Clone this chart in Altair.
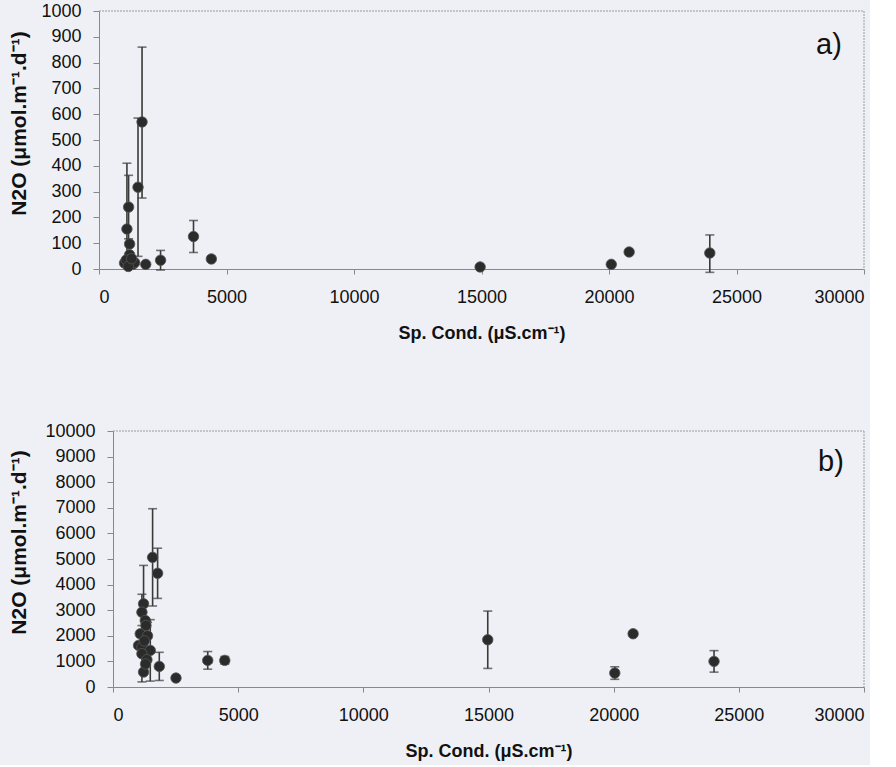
import altair as alt
import pandas as pd

# ---------- Panel a data ----------
a_x = [1688, 1530, 1161, 1095, 1200, 1200, 1001, 1069, 1331, 1398, 1833, 1150,
       1280, 2414, 3706, 4406, 14946, 20090, 20790, 23953]
a_y = [570, 317, 240, 155, 97, 55, 23, 35, 18, 25, 18, 10,
       40, 34, 126, 39, 8, 18, 66, 62]
a_lo = [295, 268, 123, 140, 0, 0, 0, 0, 0, 0, 0, 0,
        0, 38, 62, 0, 0, 0, 0, 75]
a_hi = [290, 268, 123, 255, 0, 0, 0, 0, 0, 0, 0, 0,
        0, 38, 62, 0, 0, 0, 0, 70]

# ---------- Panel b data ----------
b_x = [1582, 1782, 1221, 1155, 1289, 1315, 1088, 1380, 1021, 1155, 1489, 1155,
       1355, 1221, 1250, 1300, 1849, 2516, 3784, 4465, 14970, 20045, 20777, 24009]
b_y = [5064, 4441, 3249, 2922, 2598, 2403, 2078, 2000, 1625, 1560, 1430, 1300,
       1067, 584, 1800, 900, 805, 351, 1040, 1040, 1846, 545, 2080, 1001]
b_lo = [1900, 980, 1500, 700, 0, 0, 0, 530, 0, 0, 1200, 1100,
        0, 0, 0, 0, 550, 0, 345, 150, 1120, 245, 0, 420]
b_hi = [1900, 980, 1500, 700, 0, 0, 0, 530, 0, 0, 1200, 1100,
        0, 0, 0, 0, 550, 0, 345, 150, 1120, 245, 0, 420]

x_ticks = [0, 5000, 10000, 15000, 20000, 25000, 30000]
a_yticks = list(range(0, 1001, 100))
b_yticks = list(range(0, 10001, 1000))

FONT = "Liberation Sans"
PT = "#2b2b2b"
BAR = "#3a3a3a"
FRAME = "#9a9a9a"
W = 765


def panel(xs, ys, lo, hi, ymax, yticks, label, h, x0, tpad, title_y, lab_x, lab_y):
    df = pd.DataFrame({"x": xs, "y": ys, "lo": lo, "hi": hi})
    df["ylo"] = df["y"] - df["lo"]
    df["yhi"] = df["y"] + df["hi"]
    err = df[(df["lo"] > 0) | (df["hi"] > 0)]

    xs_ = alt.Scale(domain=[0, 30000], nice=False, zero=False, range=[x0, W])
    ys_ = alt.Scale(domain=[0, ymax], nice=False)
    xax = alt.Axis(values=x_ticks, format="d", grid=False,
                   title="Sp. Cond. (\u03bcS.cm\u207b\u00b9)",
                   labelFontSize=18, labelFont=FONT, labelColor="#111",
                   labelOverlap=False,
                   tickColor="#888", domainColor="#888", tickSize=5,
                   labelPadding=14, titleFontSize=18, titleFont=FONT,
                   titleFontWeight="bold", titleColor="#111", titlePadding=18,
                   titleX=(x0 + W) / 2)
    yax = alt.Axis(values=yticks, format="d", grid=False, offset=-x0,
                   title="N2O (\u03bcmol.m\u207b\u00b9.d\u207b\u00b9)",
                   labelFontSize=18, labelFont=FONT, labelColor="#111",
                   labelOverlap=False,
                   tickColor="#888", domainColor="#888", tickSize=6,
                   labelPadding=12, titleFontSize=21, titleFont=FONT,
                   titleFontWeight="bold", titleColor="#111", titlePadding=tpad,
                   titleY=title_y)

    X = lambda f: alt.X(f, scale=xs_, axis=xax)
    Y = lambda f: alt.Y(f, scale=ys_, axis=yax)

    # dotted frame (top and right edges of the plot box)
    frame_top = alt.Chart(pd.DataFrame({"k": [0]})).mark_rule(
        color=FRAME, strokeDash=[2, 1], strokeWidth=1).encode(
        x=alt.value(x0), x2=alt.value(W), y=alt.value(0))
    frame_right = alt.Chart(pd.DataFrame({"k": [0]})).mark_rule(
        color=FRAME, strokeDash=[2, 1], strokeWidth=1).encode(
        x=alt.value(W), y=alt.value(0), y2=alt.value(h))

    base_err = alt.Chart(err)
    rules = base_err.mark_rule(color=BAR, strokeWidth=1.6).encode(
        x=X("x:Q"), y=Y("ylo:Q"), y2="yhi:Q")
    cap_hi = base_err.mark_tick(color=BAR, orient="horizontal", size=9, thickness=1.6).encode(
        x=X("x:Q"), y=Y("yhi:Q"))
    cap_lo = base_err.mark_tick(color=BAR, orient="horizontal", size=9, thickness=1.6).encode(
        x=X("x:Q"), y=Y("ylo:Q"))
    pts = alt.Chart(df).mark_circle(size=110, color=PT, opacity=1,
                                    stroke="#555", strokeWidth=0.8).encode(
        x=X("x:Q"), y=Y("y:Q"))
    txt = alt.Chart(pd.DataFrame({"t": [label]})).mark_text(
        font=FONT, fontSize=29, color="#111", align="left", baseline="middle"
    ).encode(text="t:N", x=alt.value(lab_x), y=alt.value(lab_y))
    return alt.layer(rules, cap_hi, cap_lo, pts, txt, frame_top, frame_right).properties(
        width=W, height=h)


pa = panel(a_x, a_y, a_lo, a_hi, 1000, a_yticks, "a)", 258, 0, 11, 112, 717, 34)
pb = panel(b_x, b_y, b_lo, b_hi, 10000, b_yticks, "b)", 256, 14, 15, 111, 719, 31)

chart = alt.vconcat(pa, pb, spacing=80).properties(
    background="#eef0f6",
    padding={"left": 8, "top": 2, "right": 5, "bottom": 5},
).configure_view(stroke=None)

chart.save("out.html", embed_options={"renderer": "svg", "actions": False})
